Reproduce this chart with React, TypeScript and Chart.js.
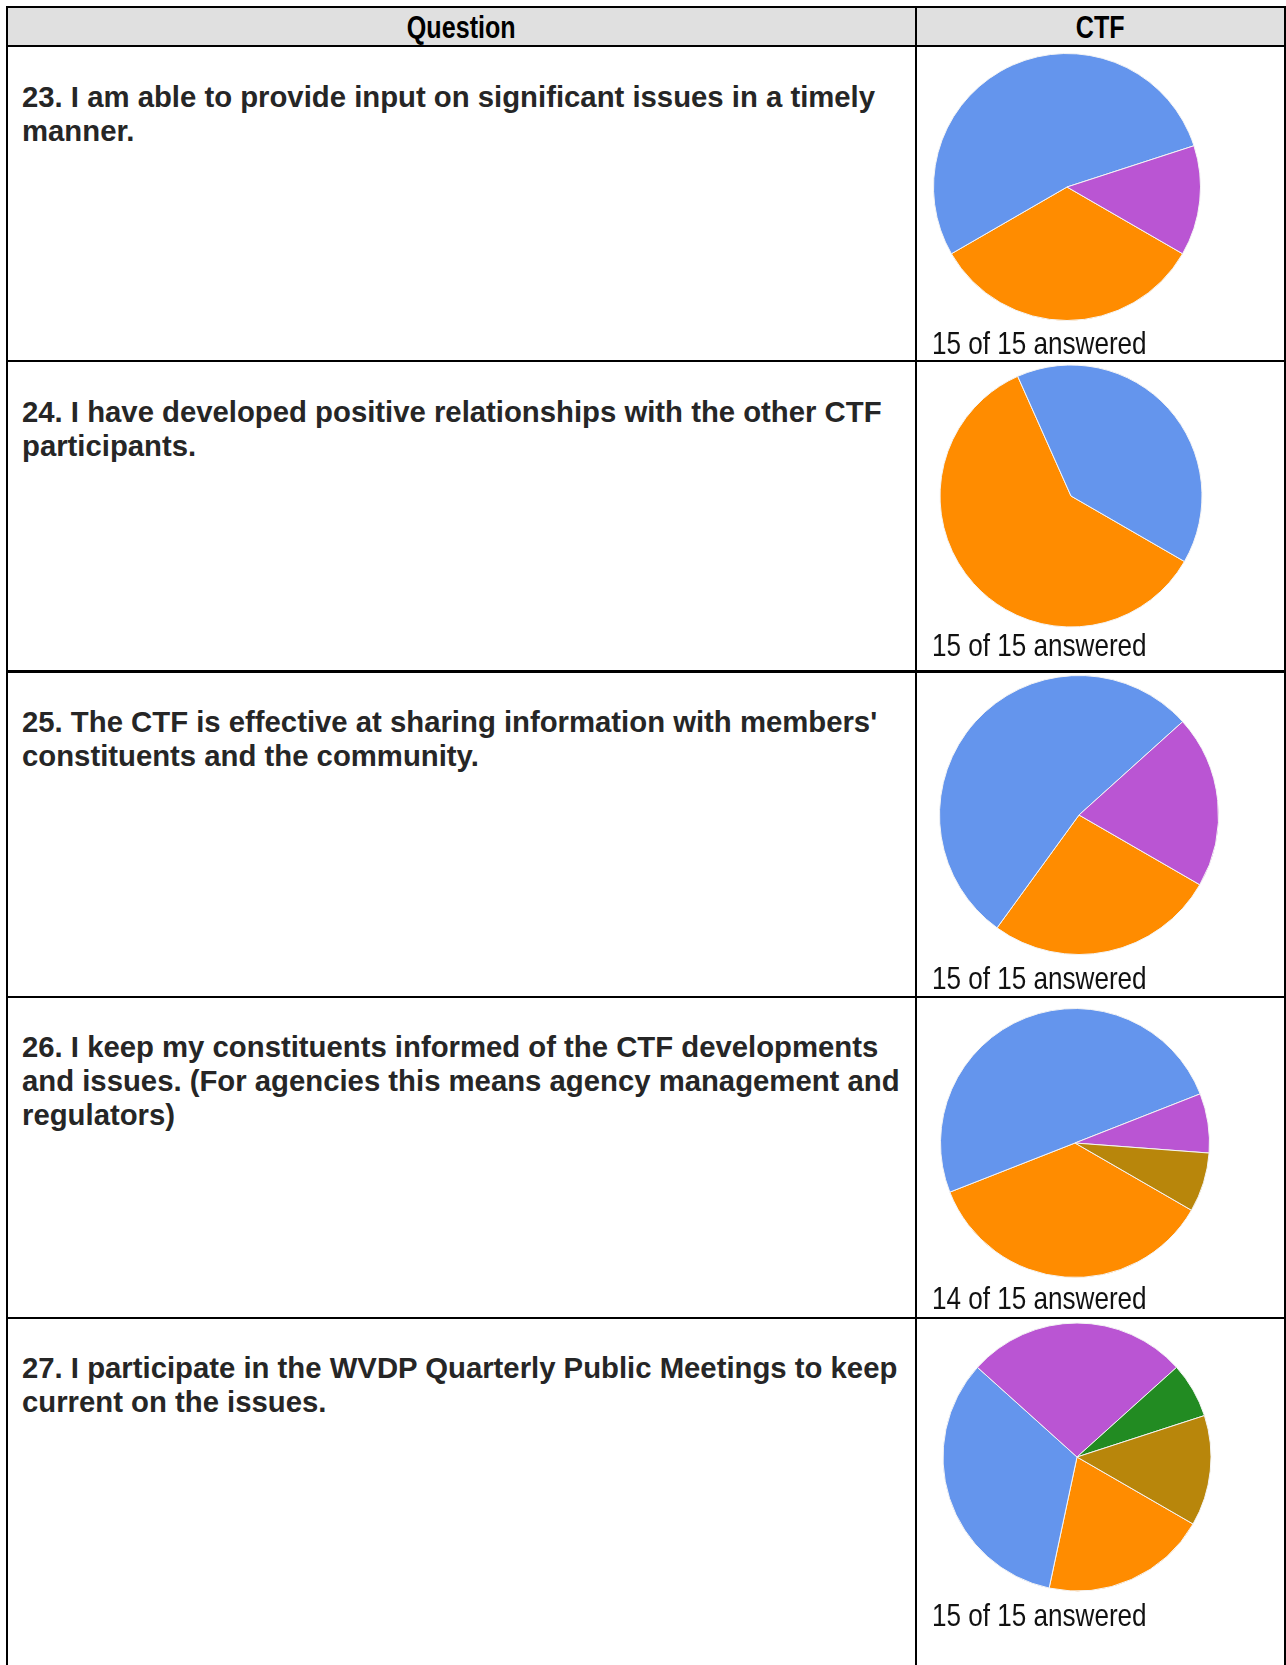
import React, { useEffect, useRef } from "react";
import { Chart, registerables } from "chart.js";

Chart.register(...registerables);

// ---- data ----
const headerLabels = ["Question", "CTF"];
const categories = ["Response A", "Response B", "Response C", "Response D", "Response E"];
const sliceColors = ["#FF8C00", "#6495ED", "#BA55D3", "#228B22", "#B8860B"];

const q23Values = [5, 8, 2, 0, 0];
const q24Values = [9, 6, 0, 0, 0];
const q25Values = [4, 8, 3, 0, 0];
const q26Values = [5, 7, 1, 0, 1];
const q27Values = [3, 5, 4, 1, 2];

const questionLines = [
  ["23. I am able to provide input on significant issues in a timely", "manner."],
  ["24. I have developed positive relationships with the other CTF", "participants."],
  ["25. The CTF is effective at sharing information with members'", "constituents and the community."],
  [
    "26. I keep my constituents informed of the CTF developments",
    "and issues. (For agencies this means agency management and",
    "regulators)",
  ],
  ["27. I participate in the WVDP Quarterly Public Meetings to keep", "current on the issues."],
];
const answeredCounts = [15, 15, 15, 14, 15];
const totalRespondents = 15;

const allValues = [q23Values, q24Values, q25Values, q26Values, q27Values];

// ---- layout (styles only) ----
const rowTops = [46, 361, 670.5, 996, 1317];
const rowBottomLines = [359.5, 670, 995.5, 1316.5];
const pieCenters = [
  [1067, 187, 133.5],
  [1071, 496, 131],
  [1079, 815, 139.5],
  [1075, 1143, 134.5],
  [1077, 1457, 134],
];
const answeredBaselines = [354, 656, 989, 1309, 1626];

const SANS = '"Liberation Sans", Arial, sans-serif';

function PieChart({ values, cx, cy, r }: { values: number[]; cx: number; cy: number; r: number }) {
  const ref = useRef<HTMLCanvasElement | null>(null);
  useEffect(() => {
    if (!ref.current) return;
    const chart = new Chart(ref.current, {
      type: "pie",
      data: {
        labels: categories,
        datasets: [
          {
            data: values,
            backgroundColor: sliceColors,
            borderColor: "#f4f4f4",
            borderWidth: 1,
            hoverOffset: 0,
            radius: r,
          } as any,
        ],
      },
      options: {
        responsive: false,
        animation: false,
        devicePixelRatio: 1,
        rotation: 120,
        layout: { padding: 0 },
        plugins: {
          legend: { display: false },
          tooltip: { enabled: false },
          title: { display: false },
        },
      },
    });
    return () => chart.destroy();
  }, [values, r]);
  const size = 300;
  return (
    <canvas
      ref={ref}
      width={size}
      height={size}
      style={{
        position: "absolute",
        left: cx - size / 2,
        top: cy - size / 2,
        width: size,
        height: size,
      }}
    />
  );
}

function Line({ x, y, w, h }: { x: number; y: number; w: number; h: number }) {
  return <div style={{ position: "absolute", left: x, top: y, width: w, height: h, background: "#000" }} />;
}

export default function App() {
  const W = 1286;
  const H = 1665;
  const leftX = 5.5;
  const divX = 914.5;
  const rightX = 1283.5;
  const lw = 2.5;
  const headerStyle: React.CSSProperties = {
    position: "absolute",
    top: 11.5,
    textAlign: "center",
    fontFamily: SANS,
    fontWeight: "bold",
    fontSize: 31,
    lineHeight: "31px",
    color: "#000",
    whiteSpace: "nowrap",
    transform: "scaleX(0.81)",
    transformOrigin: "center",
  };
  return (
    <div
      style={{
        position: "absolute",
        left: 0,
        top: 0,
        width: W,
        height: H,
        overflow: "hidden",
        background: "#fff",
      }}
    >
      {/* header background */}
      <div style={{ position: "absolute", left: 8, top: 8, width: rightX - 8, height: 37, background: "#e0e0e0" }} />
      {/* header text */}
      <div style={{ ...headerStyle, left: 8, width: divX - 8 }}>{headerLabels[0]}</div>
      <div style={{ ...headerStyle, left: divX + lw, width: rightX - divX - lw }}>{headerLabels[1]}</div>

      {/* question texts */}
      {questionLines.map((lines, i) => (
        <div
          key={"q" + i}
          style={{
            position: "absolute",
            left: 22,
            top: rowTops[i] + 34,
            fontFamily: SANS,
            fontWeight: "bold",
            fontSize: 29.3,
            lineHeight: "34px",
            color: "#262626",
            whiteSpace: "nowrap",
          }}
        >
          {lines.map((l, j) => (
            <div key={j}>{l}</div>
          ))}
        </div>
      ))}

      {/* pies */}
      {allValues.map((vals, i) => (
        <PieChart key={"p" + i} values={vals} cx={pieCenters[i][0]} cy={pieCenters[i][1]} r={pieCenters[i][2]} />
      ))}

      {/* answered labels */}
      {answeredCounts.map((n, i) => (
        <div
          key={"a" + i}
          style={{
            position: "absolute",
            left: 932,
            top: answeredBaselines[i] - 27.1,
            fontFamily: SANS,
            fontSize: 32,
            lineHeight: "32px",
            color: "#111",
            whiteSpace: "nowrap",
            transform: "scaleX(0.815)",
            transformOrigin: "left center",
          }}
        >
          {`${n} of ${totalRespondents} answered`}
        </div>
      ))}

      {/* borders */}
      <Line x={leftX} y={5.5} w={rightX + lw - leftX} h={lw} />
      <Line x={leftX} y={44.5} w={rightX + lw - leftX} h={lw} />
      {rowBottomLines.map((y, i) => (
        <Line key={"h" + i} x={leftX} y={y} w={rightX + lw - leftX} h={lw} />
      ))}
      <Line x={leftX} y={5.5} w={lw} h={H} />
      <Line x={divX} y={5.5} w={lw} h={H} />
      <Line x={rightX} y={5.5} w={lw} h={H} />
    </div>
  );
}
